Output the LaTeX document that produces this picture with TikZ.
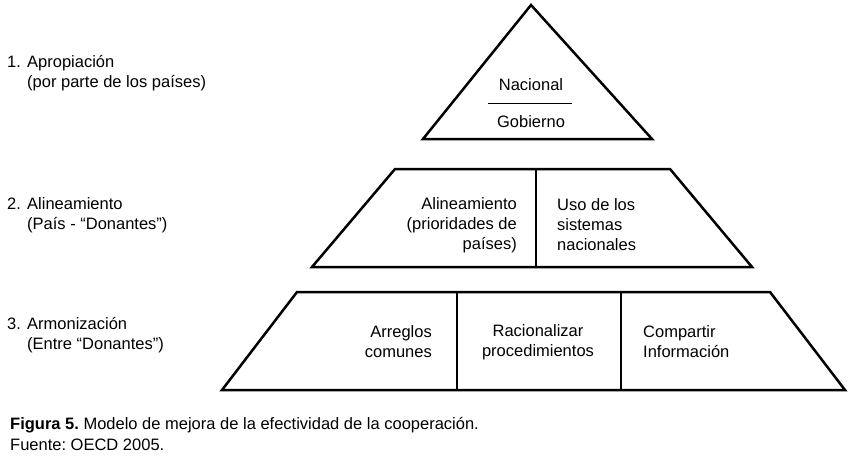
\documentclass[tikz,border=0pt]{standalone}
\usepackage{fontspec}
\setmainfont{Liberation Sans}
\frenchspacing
\begin{document}
\begin{tikzpicture}[x=1pt,y=-1pt,
  shp/.style={draw=black,line width=2.5pt,line join=miter},
  sep/.style={draw=black,line width=2.3pt},
  txt/.style={inner sep=0pt,font=\fontsize{16.5}{20}\selectfont},
  lbl/.style={inner sep=0pt,font=\fontsize{16.5}{20}\selectfont,anchor=west,align=left},
  captxt/.style={inner sep=0pt,font=\fontsize{16.5}{20}\selectfont,anchor=west}]
\useasboundingbox (0,0) rectangle (850,455);
% top triangle
\coordinate (tA) at (531,5);
\coordinate (tL) at (423,139);
\coordinate (tR) at (652,139);
\draw[shp] (tA) -- (tR) -- (tL) -- cycle;
\node[txt] (nac) at (531,85) {Nacional};
\node[txt] (gob) at (531,122) {Gobierno};
\coordinate (l1) at (488,103);
\coordinate (l2) at (572,103);
\draw[line width=1pt] (l1) -- (l2);
% middle trapezoid
\coordinate (mTL) at (395,169);
\coordinate (mTR) at (670,169);
\coordinate (mBR) at (752,267);
\coordinate (mBL) at (312,267);
\draw[shp] (mTL) -- (mTR) -- (mBR) -- (mBL) -- cycle;
\coordinate (mD1) at (536,169);
\coordinate (mD2) at (536,267);
\draw[sep] (mD1) -- (mD2);
\node[txt,align=right,anchor=east] (ali) at (517,225) {Alineamiento\\(prioridades de\\países)};
\node[txt,align=left,anchor=west] (uso) at (557,225) {Uso de los\\sistemas\\nacionales};
% bottom trapezoid
\coordinate (bTL) at (297,292);
\coordinate (bTR) at (770,292);
\coordinate (bBR) at (845,390);
\coordinate (bBL) at (222,390);
\draw[shp] (bTL) -- (bTR) -- (bBR) -- (bBL) -- cycle;
\coordinate (bD1) at (457,292);
\coordinate (bD2) at (457,390);
\coordinate (bD3) at (621,292);
\coordinate (bD4) at (621,390);
\draw[sep] (bD1) -- (bD2);
\draw[sep] (bD3) -- (bD4);
\node[txt,align=right,anchor=east] (arr) at (432,342) {Arreglos\\comunes};
\node[txt,align=center] (rac) at (538,342) {Racionalizar\\procedimientos};
\node[txt,align=left,anchor=west] (com) at (643,342) {Compartir\\Información};
% left labels
\node[lbl] (e1) at (7,73) {\makebox[20pt][l]{1.}Apropiación\\\hspace*{20pt}(por parte de los países)};
\node[lbl] (e2) at (7,215) {\makebox[20pt][l]{2.}Alineamiento\\\hspace*{20pt}(País - “Donantes”)};
\node[lbl] (e3) at (7,335) {\makebox[20pt][l]{3.}Armonización\\\hspace*{20pt}(Entre “Donantes”)};
% caption
\node[captxt] (c1) at (10,425) {\textbf{Figura 5.} Modelo de mejora de la efectividad de la cooperación.};
\node[captxt] (c2) at (10,445) {Fuente: OECD 2005.};
\end{tikzpicture}
\end{document}
